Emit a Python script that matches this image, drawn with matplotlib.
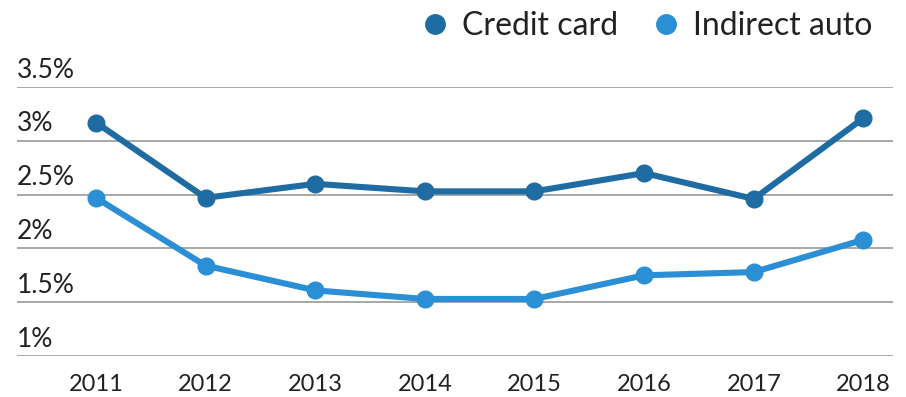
import matplotlib

matplotlib.use("Agg")

import matplotlib.pyplot as plt
from matplotlib.lines import Line2D
from matplotlib.transforms import blended_transform_factory

years = [2011, 2012, 2013, 2014, 2015, 2016, 2017, 2018]
credit_card = [3.17, 2.47, 2.60, 2.53, 2.53, 2.70, 2.46, 3.21]
indirect_auto = [2.47, 1.84, 1.61, 1.53, 1.53, 1.75, 1.78, 2.08]
y_ticks = [1.0, 1.5, 2.0, 2.5, 3.0, 3.5]
y_labels = ["1%", "1.5%", "2%", "2.5%", "3%", "3.5%"]

dark_blue = "#1f6ca3"
light_blue = "#2b8fd6"
text_color = "#222222"

plt.rcParams["font.family"] = ["Lato", "DejaVu Sans"]

fig = plt.figure(figsize=(9.06, 3.97), dpi=100)
ax = fig.add_axes([17 / 906, 41 / 397, 876 / 906, 269 / 397])

ax.plot(years, credit_card, color=dark_blue, lw=4.4, marker="o", ms=12,
        solid_joinstyle="round", clip_on=False, zorder=3)
ax.plot(years, indirect_auto, color=light_blue, lw=4.4, marker="o", ms=12,
        solid_joinstyle="round", clip_on=False, zorder=3)

ax.set_xlim(2010.28, 2018.27)
ax.set_ylim(1.0, 3.5)
ax.set_yticks(y_ticks)
ax.set_yticklabels([])
ax.tick_params(axis="y", length=0)
ax.set_xticks(years)
ax.set_xticklabels([str(y) for y in years], fontsize=17, color=text_color)
ax.tick_params(axis="x", length=0, pad=13)
ax.grid(axis="y", color="#a0a0a0", lw=1.3)
ax.set_axisbelow(True)
for spine in ax.spines.values():
    spine.set_visible(False)

# y labels sit above their gridlines, flush with the left edge
trans = blended_transform_factory(ax.transAxes, ax.transData)
for val, lab in zip(y_ticks, y_labels):
    ax.text(0.0, val + 0.04, lab, transform=trans, ha="left", va="bottom",
            fontsize=19, color=text_color)

handles = [
    Line2D([], [], ls="none", marker="o", ms=14, color=dark_blue, label="Credit card"),
    Line2D([], [], ls="none", marker="o", ms=14, color=light_blue, label="Indirect auto"),
]
fig.legend(handles=handles, loc="upper right", bbox_to_anchor=(0.995, 1.045),
           ncol=2, frameon=False, fontsize=23, handletextpad=0.35,
           columnspacing=1.0, handlelength=1.0, labelcolor=text_color)

fig.savefig("out.png", dpi=100)
